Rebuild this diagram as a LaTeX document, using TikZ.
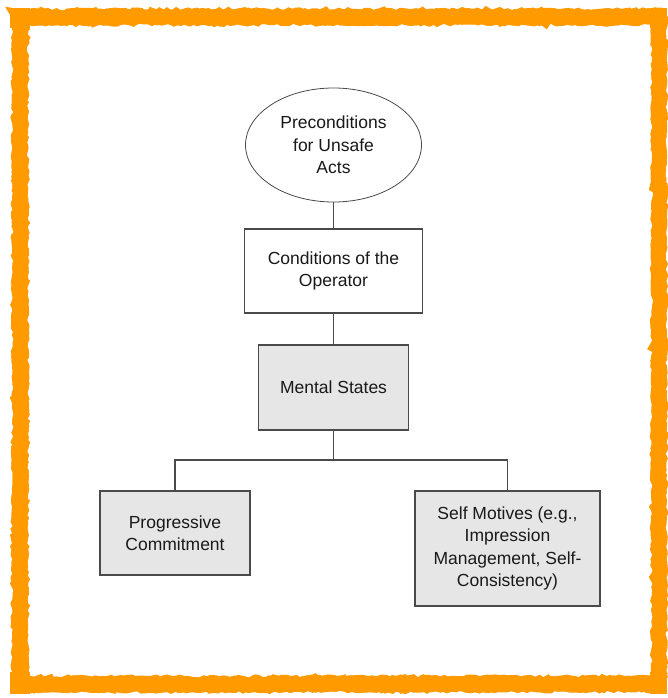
\documentclass[tikz,border=0pt]{standalone}
\usepackage{fontspec}
\setmainfont{Liberation Sans}
\usetikzlibrary{shapes.geometric,decorations.pathmorphing}
\definecolor{frameorange}{HTML}{FF9A00}
\definecolor{boxgray}{HTML}{E6E6E6}
\definecolor{edgegray}{HTML}{4A4A4A}
\begin{document}
\begin{tikzpicture}[x=1pt,y=-1pt,
  every node/.style={font=\fontsize{17.5}{22.5}\selectfont, align=center, text=black!90},
  plainbox/.style={draw=edgegray, line width=1.1pt, fill=white, inner sep=0pt},
  graybox/.style={draw=edgegray, line width=1.1pt, fill=boxgray, inner sep=0pt},
  oval/.style={ellipse, draw=edgegray, line width=0.8pt, fill=white, inner sep=0pt},
  link/.style={draw=edgegray, line width=1.1pt},
  rough/.style={draw=frameorange, decorate, decoration={random steps, segment length=4pt, amplitude=1.6pt}}]
\useasboundingbox (0,0) rectangle (667,698);
\pgfmathsetseed{17}
% hand-painted orange frame
\draw[rough, line width=15pt] (20,17) -- (659,17) -- (659,684) -- (20,684) -- cycle;
\draw[rough, line width=6pt] (16,12) -- (663,12) -- (663,689) -- (15,689) -- cycle;
\draw[rough, line width=6pt] (25,22) -- (655,22) -- (655,679) -- (25,679) -- cycle;
\fill[frameorange] (10,8) rectangle (30,28);
\fill[frameorange] (650,8) rectangle (667,28);
\fill[frameorange] (10,672) rectangle (30,694);
\fill[frameorange] (650,672) rectangle (667,694);

% nodes
\node[oval, minimum width=176pt, minimum height=114pt] (pre) at (333.5,145)
  {Preconditions\\for Unsafe\\Acts};
\node[plainbox, minimum width=178pt, minimum height=84pt] (cond) at (333.5,271)
  {Conditions of the\\Operator};
\node[graybox, minimum width=150pt, minimum height=85pt] (mental) at (333.5,387.5)
  {Mental States};
\node[graybox, minimum width=150pt, minimum height=84pt] (prog) at (175,533)
  {Progressive\\Commitment};
\node[graybox, minimum width=185pt, minimum height=115pt] (self) at (507.5,548.5)
  {Self Motives (e.g.,\\Impression\\Management, Self-\\Consistency)};

% connectors
\coordinate (split) at (333.5,460);
\draw[link] (pre.south) -- (cond.north);
\draw[link] (cond.south) -- (mental.north);
\draw[link] (mental.south) -- (split);
\draw[link] (prog.north) |- (split) -| (self.north);
\end{tikzpicture}
\end{document}
